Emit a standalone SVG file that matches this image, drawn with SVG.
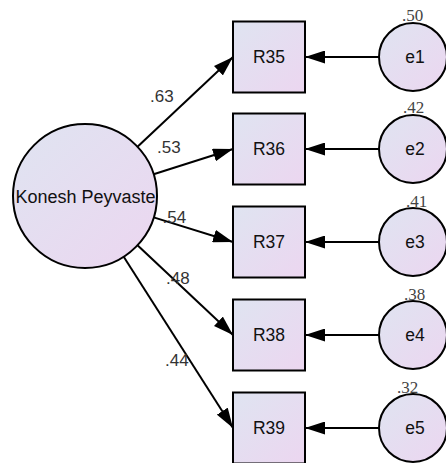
<svg xmlns="http://www.w3.org/2000/svg" width="446" height="463" viewBox="0 0 446 463">
  <defs>
    <linearGradient id="fillGrad" x1="0" y1="0" x2="1" y2="1">
      <stop offset="0" stop-color="#dfe4f1"/>
      <stop offset="1" stop-color="#ecd6f0"/>
    </linearGradient>
    <marker id="arrow" viewBox="0 0 20 13" refX="20" refY="6.5" markerWidth="20" markerHeight="13" markerUnits="userSpaceOnUse" orient="auto">
      <path d="M0,0 L20,6.5 L0,13 Z" fill="#000"/>
    </marker>
    <style>
      .shape { fill: url(#fillGrad); stroke: #000; stroke-width: 2; }
      .edge { stroke: #000; stroke-width: 2; fill: none; marker-end: url(#arrow); }
      .lbl { font-family: "Liberation Sans", Arial, sans-serif; font-size: 17.5px; fill: #111; text-anchor: middle; }
      .big { font-family: "Liberation Sans", Arial, sans-serif; font-size: 18px; fill: #111; text-anchor: middle; }
      .coef { font-family: "Liberation Sans", Arial, sans-serif; font-size: 17px; fill: #333; }
      .r2 { font-family: "Liberation Serif", "Times New Roman", serif; font-size: 17px; fill: #444; }
    </style>
  </defs>

  <!-- connectors: latent factor to indicators, errors to indicators -->
  <g id="connectors">
    <line class="edge" x1="137.5" y1="146.7" x2="233" y2="57"/>
    <line class="edge" x1="153.6" y1="174.2" x2="233" y2="149"/>
    <line class="edge" x1="153.7" y1="217.4" x2="233" y2="242"/>
    <line class="edge" x1="137.5" y1="245.3" x2="233" y2="335"/>
    <line class="edge" x1="123.7" y1="256.7" x2="233" y2="428"/>
    <line class="edge" x1="379" y1="57" x2="305" y2="57"/>
    <line class="edge" x1="379" y1="149" x2="305" y2="149"/>
    <line class="edge" x1="379" y1="242" x2="305" y2="242"/>
    <line class="edge" x1="379" y1="335" x2="305" y2="335"/>
    <line class="edge" x1="379" y1="428" x2="305" y2="428"/>
  </g>

  <!-- standardized loadings -->
  <g id="loadings">
    <text class="coef" x="150" y="101.5">.63</text>
    <text class="coef" x="157" y="153">.53</text>
    <text class="coef" x="162.5" y="223">.54</text>
    <text class="coef" x="166" y="284">.48</text>
    <text class="coef" x="165" y="366">.44</text>
  </g>

  <g id="konesh">
    <circle class="shape" cx="85" cy="196" r="72"/>
    <text class="big" x="85.5" y="202.5">Konesh Peyvaste</text>
  </g>

  <g id="R35">
    <rect class="shape" x="233" y="21.5" width="72" height="71"/>
    <text class="lbl" x="269" y="63.3">R35</text>
  </g>
  <g id="R36">
    <rect class="shape" x="233" y="113.5" width="72" height="71"/>
    <text class="lbl" x="269" y="155.3">R36</text>
  </g>
  <g id="R37">
    <rect class="shape" x="233" y="206.5" width="72" height="71"/>
    <text class="lbl" x="269" y="248.3">R37</text>
  </g>
  <g id="R38">
    <rect class="shape" x="233" y="299.5" width="72" height="71"/>
    <text class="lbl" x="269" y="341.3">R38</text>
  </g>
  <g id="R39">
    <rect class="shape" x="233" y="392.5" width="72" height="71"/>
    <text class="lbl" x="269" y="434.3">R39</text>
  </g>

  <g id="e1">
    <circle class="shape" cx="413" cy="57" r="34"/>
    <text class="lbl" x="415" y="63.3">e1</text>
    <text class="r2" x="402" y="21">.50</text>
  </g>
  <g id="e2">
    <circle class="shape" cx="413" cy="149" r="34"/>
    <text class="lbl" x="415" y="155.3">e2</text>
    <text class="r2" x="403" y="113">.42</text>
  </g>
  <g id="e3">
    <circle class="shape" cx="413" cy="242" r="34"/>
    <text class="lbl" x="415" y="248.3">e3</text>
    <text class="r2" x="406" y="206.5">.41</text>
  </g>
  <g id="e4">
    <circle class="shape" cx="413" cy="335" r="34"/>
    <text class="lbl" x="415" y="341.3">e4</text>
    <text class="r2" x="404" y="299.5">.38</text>
  </g>
  <g id="e5">
    <circle class="shape" cx="413" cy="428" r="34"/>
    <text class="lbl" x="415" y="434.3">e5</text>
    <text class="r2" x="397" y="392.5">.32</text>
  </g>
</svg>
